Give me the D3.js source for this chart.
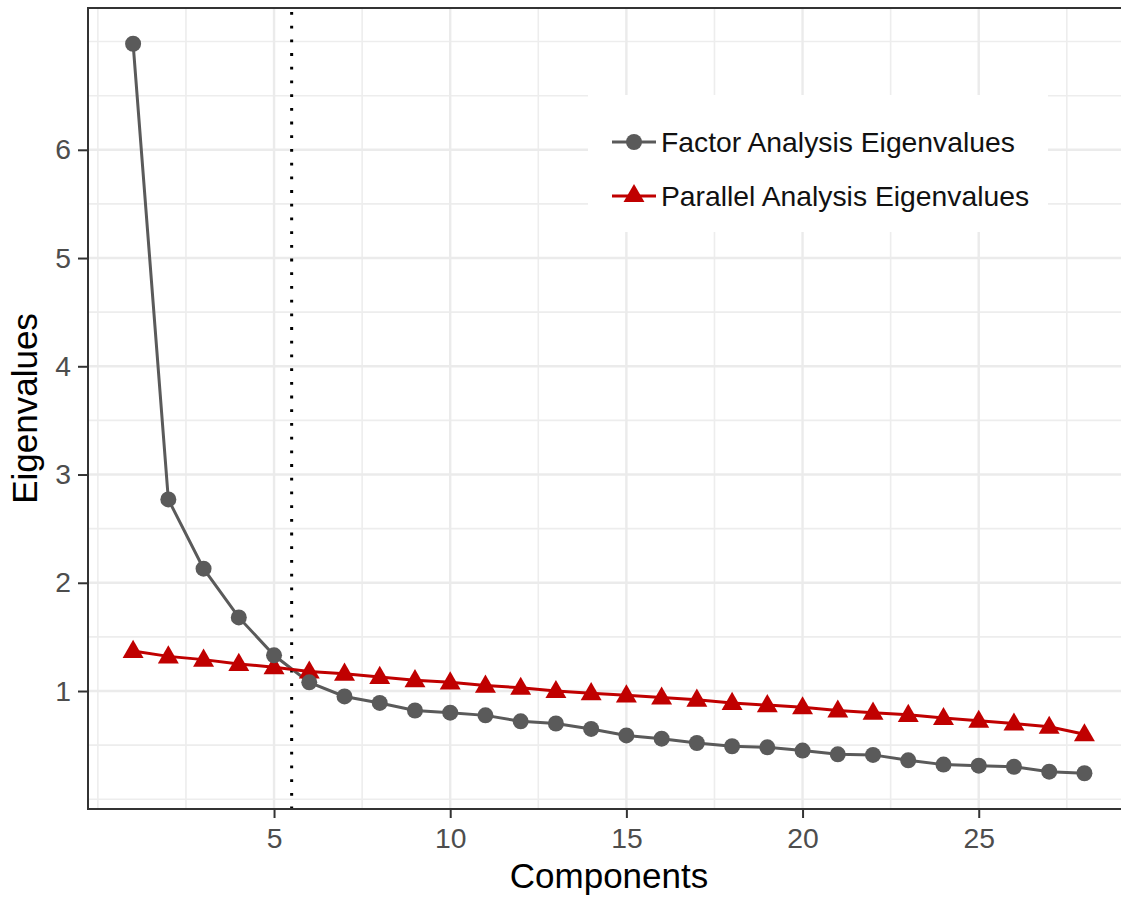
<!DOCTYPE html>
<html lang="en">
<head>
  <meta charset="UTF-8">
  <title>Scree Plot</title>
  <script src="https://d3js.org/d3.v7.min.js"></script>
  <style>
    body { margin: 0; background: #fff; }
    text { font-family: "Liberation Sans", Arial, sans-serif; }
  </style>
</head>
<body>
  <svg id="chart" width="1121" height="899"></svg>

  <script>
    // data
    const components = d3.range(1, 29);
    const factorEigen = [6.98, 2.77, 2.13, 1.68, 1.33, 1.08, 0.95, 0.89, 0.82, 0.80,
      0.775, 0.72, 0.70, 0.65, 0.59, 0.56, 0.52, 0.49, 0.48, 0.45,
      0.415, 0.41, 0.36, 0.32, 0.31, 0.30, 0.255, 0.24];
    const parallelEigen = [1.37, 1.32, 1.29, 1.25, 1.22, 1.18, 1.16, 1.13, 1.10, 1.08,
      1.05, 1.03, 1.00, 0.98, 0.96, 0.94, 0.92, 0.89, 0.87, 0.85,
      0.82, 0.80, 0.78, 0.75, 0.725, 0.70, 0.67, 0.60];
    const xTicks = [5, 10, 15, 20, 25];
    const xMinor = [0, 2.5, 7.5, 12.5, 17.5, 22.5, 27.5];
    const yTicks = [1, 2, 3, 4, 5, 6];
    const yMinor = [0, 0.5, 1.5, 2.5, 3.5, 4.5, 5.5, 6.5, 7];
    const cutoff = 5.5;
    const seriesNames = ["Factor Analysis Eigenvalues", "Parallel Analysis Eigenvalues"];

    const svg = d3.select("#chart");
    const pLeft = 88, pTop = 8, pBottom = 809, pRight = 1132;

    const x = d3.scaleLinear().domain([-0.28, 29.35]).range([pLeft, pRight]);
    const y = d3.scaleLinear().domain([-0.09, 7.31]).range([pBottom, pTop]);

    const grey = "#5a5a5a", red = "#c00000";

    // grid
    const grid = svg.append("g");
    grid.selectAll(".ymin").data(yMinor).join("line")
      .attr("x1", pLeft).attr("x2", pRight)
      .attr("y1", d => y(d)).attr("y2", d => y(d))
      .attr("stroke", "#ededed").attr("stroke-width", 1.6);
    grid.selectAll(".xmin").data(xMinor).join("line")
      .attr("y1", pTop).attr("y2", pBottom)
      .attr("x1", d => x(d)).attr("x2", d => x(d))
      .attr("stroke", "#ededed").attr("stroke-width", 1.6);
    grid.selectAll(".ymaj").data(yTicks).join("line")
      .attr("x1", pLeft).attr("x2", pRight)
      .attr("y1", d => y(d)).attr("y2", d => y(d))
      .attr("stroke", "#ebebeb").attr("stroke-width", 2.4);
    grid.selectAll(".xmaj").data(xTicks).join("line")
      .attr("y1", pTop).attr("y2", pBottom)
      .attr("x1", d => x(d)).attr("x2", d => x(d))
      .attr("stroke", "#ebebeb").attr("stroke-width", 2.4);

    // cutoff
    svg.append("line")
      .attr("x1", x(cutoff)).attr("x2", x(cutoff))
      .attr("y1", pTop + 4).attr("y2", pBottom)
      .attr("stroke", "#000").attr("stroke-width", 3)
      .attr("stroke-dasharray", "2.8 10.9");

    const line = d3.line().x((d, i) => x(components[i])).y(d => y(d));

    svg.append("path").datum(factorEigen)
      .attr("d", line).attr("fill", "none")
      .attr("stroke", grey).attr("stroke-width", 3);
    svg.append("path").datum(parallelEigen)
      .attr("d", line).attr("fill", "none")
      .attr("stroke", red).attr("stroke-width", 3);

    const tri = d3.symbol().type(d3.symbolTriangle).size(190);

    svg.selectAll(".tri").data(parallelEigen).join("path")
      .attr("transform", (d, i) => `translate(${x(components[i])},${y(d) + 1})`)
      .attr("d", tri).attr("fill", red);

    svg.selectAll(".dot").data(factorEigen).join("circle")
      .attr("cx", (d, i) => x(components[i])).attr("cy", d => y(d))
      .attr("r", 8).attr("fill", grey);

    // legend
    const lg = svg.append("g");
    lg.append("rect").attr("x", 588).attr("y", 95).attr("width", 460).attr("height", 137)
      .attr("fill", "#fff");
    const keys = [
      { name: seriesNames[0], color: grey, shape: "circle", cy: 142 },
      { name: seriesNames[1], color: red, shape: "tri", cy: 196 }
    ];
    keys.forEach(k => {
      lg.append("line").attr("x1", 612).attr("x2", 656)
        .attr("y1", k.cy).attr("y2", k.cy)
        .attr("stroke", k.color).attr("stroke-width", 3);
      if (k.shape === "circle") {
        lg.append("circle").attr("cx", 634).attr("cy", k.cy).attr("r", 8).attr("fill", k.color);
      } else {
        lg.append("path").attr("transform", `translate(634,${k.cy})`).attr("d", tri).attr("fill", k.color);
      }
      lg.append("text").attr("x", 661).attr("y", k.cy + 10)
        .attr("font-size", 28.3).attr("fill", "#111").text(k.name);
    });

    // panel border
    svg.append("rect").attr("x", pLeft).attr("y", pTop)
      .attr("width", pRight - pLeft).attr("height", pBottom - pTop)
      .attr("fill", "none").attr("stroke", "#333").attr("stroke-width", 2);

    // axes
    const xAxis = svg.append("g").attr("transform", `translate(0,${pBottom})`)
      .call(d3.axisBottom(x).tickValues(xTicks).tickSize(9).tickPadding(10).tickFormat(d3.format("d")));
    const yAxis = svg.append("g").attr("transform", `translate(${pLeft},0)`)
      .call(d3.axisLeft(y).tickValues(yTicks).tickSize(10).tickPadding(7).tickFormat(d3.format("d")));
    [xAxis, yAxis].forEach(a => {
      a.select(".domain").remove();
      a.selectAll(".tick line").attr("stroke", "#333").attr("stroke-width", 2);
      a.selectAll(".tick text").attr("font-size", 28.3).attr("fill", "#4d4d4d")
        .style("font-family", '"Liberation Sans", Arial, sans-serif');
    });

    svg.append("text").attr("x", (pLeft + pRight) / 2 - 1).attr("y", 888)
      .attr("text-anchor", "middle").attr("font-size", 35).attr("fill", "#000")
      .text("Components");
    svg.append("text").attr("transform", `translate(37,${(pTop + pBottom) / 2}) rotate(-90)`)
      .attr("text-anchor", "middle").attr("font-size", 35).attr("fill", "#000")
      .text("Eigenvalues");
  </script>
</body>
</html>
